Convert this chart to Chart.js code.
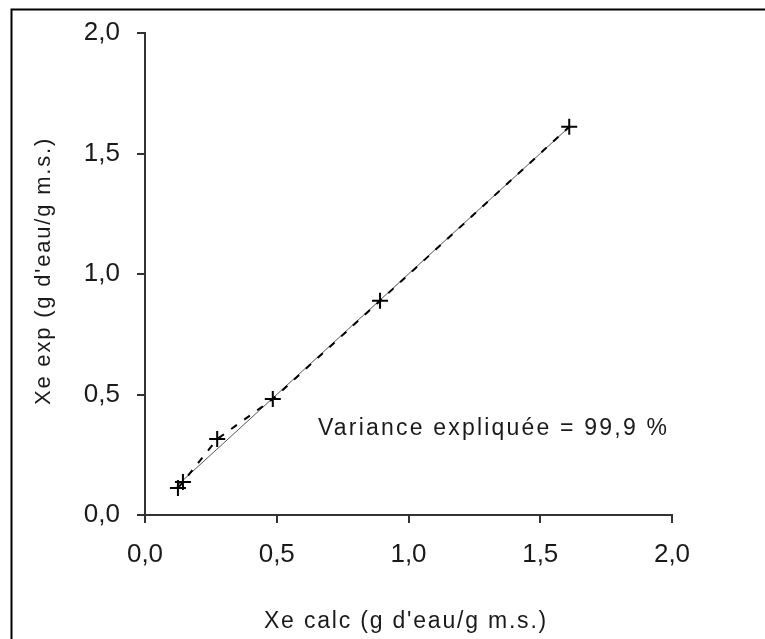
<!DOCTYPE html>
<html>
<head>
<meta charset="utf-8">
<script src="https://cdn.jsdelivr.net/npm/chart.js@4/dist/chart.umd.min.js"></script>
<style>
  html, body { margin: 0; padding: 0; background: #fff; }
  canvas { display: block; }
</style>
</head>
<body>
<canvas id="c" width="765" height="639"></canvas>
<script>
// ---- data ----
const calcValues = [0.125, 0.144, 0.274, 0.485, 0.892, 1.610];   // Xe calc
const expValues  = [0.112, 0.137, 0.315, 0.481, 0.889, 1.611];   // Xe exp
const identityX  = [0.12, 1.61];                                  // y = x reference line
const identityY  = [0.12, 1.61];
const tickValues = [0, 0.5, 1.0, 1.5, 2.0];
const tickLabels = ['0,0', '0,5', '1,0', '1,5', '2,0'];
const xTitle = "Xe calc (g d'eau/g m.s.)";
const yTitle = "Xe exp (g d'eau/g m.s.)";
const note = "Variance expliquée = 99,9 %";

const pointsData = calcValues.map((x, i) => ({ x: x, y: expValues[i] }));
const lineData = identityX.map((x, i) => ({ x: x, y: identityY[i] }));

const FONT = "'Liberation Sans', Arial, sans-serif";

const decorPlugin = {
  id: 'decor',
  beforeDraw(chart) {
    const c = chart.ctx;
    c.save();
    c.fillStyle = '#fff';
    c.fillRect(0, 0, chart.width, chart.height);
    c.strokeStyle = '#000';
    c.lineWidth = 2;
    c.beginPath();
    c.moveTo(11.5, chart.height);
    c.lineTo(11.5, 9.5);
    c.lineTo(chart.width, 9.5);
    c.stroke();
    c.restore();
  },
  afterDraw(chart) {
    const c = chart.ctx;
    c.save();
    c.fillStyle = '#1a1a1a';
    c.textBaseline = 'alphabetic';
    // annotation
    c.font = '23px ' + FONT;
    c.letterSpacing = '2.2px';
    c.textAlign = 'left';
    c.fillText(note, 318, 435);
    // x title
    c.font = '23px ' + FONT;
    c.letterSpacing = '1.8px';
    c.textAlign = 'center';
    c.fillText(xTitle, 406, 628);
    // y title
    c.save();
    c.translate(50, 271);
    c.rotate(-Math.PI / 2);
    c.font = '22px ' + FONT;
    c.letterSpacing = '1.8px';
    c.textAlign = 'center';
    c.fillText(yTitle, 0, 0);
    c.restore();
    c.restore();
  }
};

function setTicks(scale) {
  scale.ticks = tickValues.map(v => ({ value: v }));
}
function fmt(value) {
  const i = tickValues.indexOf(value);
  return i >= 0 ? tickLabels[i] : '';
}

new Chart(document.getElementById('c'), {
  type: 'scatter',
  data: {
    datasets: [
      {
        label: 'y = x',
        data: lineData,
        showLine: true,
        borderColor: '#555',
        borderWidth: 1,
        pointRadius: 0,
        fill: false,
        order: 2
      },
      {
        label: 'points',
        data: pointsData,
        showLine: true,
        borderColor: '#000',
        borderWidth: 2,
        borderDash: [7, 9],
        pointStyle: 'cross',
        pointRadius: 8,
        pointBorderWidth: 2,
        pointBorderColor: '#000',
        fill: false,
        order: 1
      }
    ]
  },
  options: {
    responsive: false,
    animation: false,
    layout: { padding: { left: 12, right: 93, top: 33, bottom: 0 } },
    plugins: {
      legend: { display: false },
      tooltip: { enabled: false },
      title: { display: false }
    },
    scales: {
      x: {
        type: 'linear',
        min: 0, max: 2,
        afterBuildTicks: setTicks,
        afterFit(scale) { scale.height = 124; },
        grid: {
          display: true,
          drawOnChartArea: false,
          drawTicks: true,
          tickLength: 8,
          color: '#333',
          lineWidth: 2
        },
        border: { display: true, color: '#333', width: 2 },
        ticks: {
          callback: fmt,
          color: '#1a1a1a',
          padding: 16,
          maxRotation: 0,
          font: { family: FONT, size: 26 }
        }
      },
      y: {
        type: 'linear',
        min: 0, max: 2,
        afterBuildTicks: setTicks,
        afterFit(scale) { scale.width = 133; },
        grid: {
          display: true,
          drawOnChartArea: false,
          drawTicks: true,
          tickLength: 8,
          color: '#333',
          lineWidth: 2
        },
        border: { display: true, color: '#333', width: 2 },
        ticks: {
          callback: fmt,
          color: '#1a1a1a',
          padding: 17,
          font: { family: FONT, size: 26 }
        }
      }
    }
  },
  plugins: [decorPlugin]
});
</script>
</body>
</html>
